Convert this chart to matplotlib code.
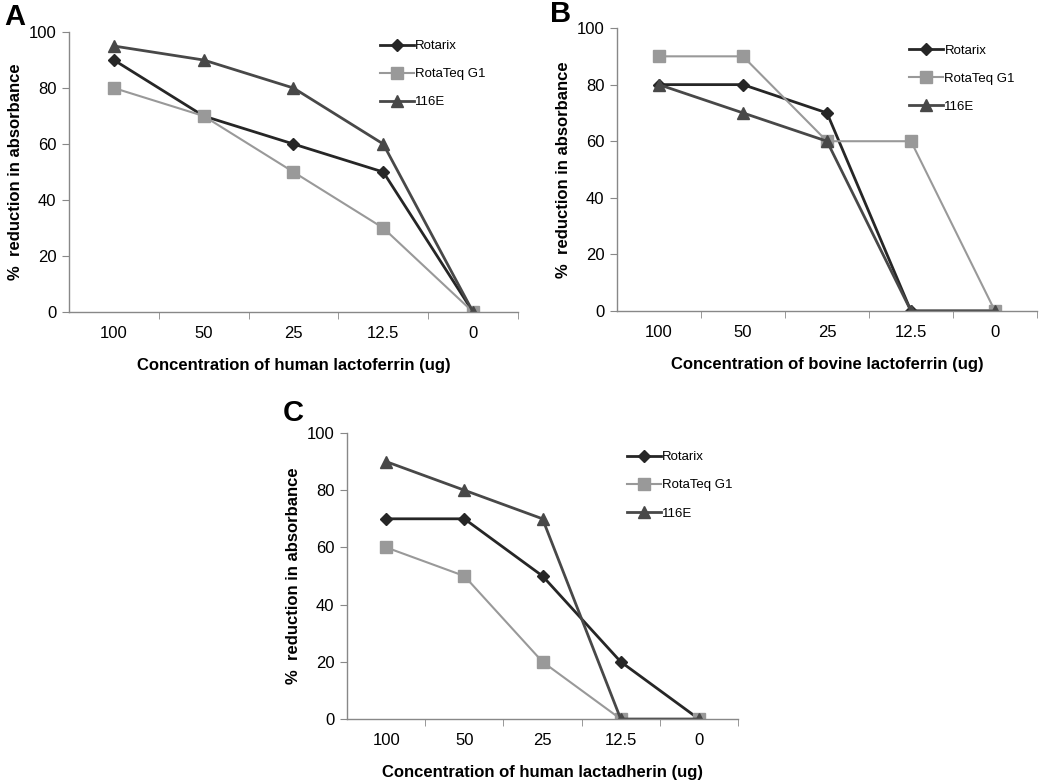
import matplotlib
matplotlib.use("Agg")
import matplotlib.pyplot as plt
from matplotlib.ticker import FixedLocator

plt.rcParams['font.family'] = ['Liberation Sans', 'DejaVu Sans']

categories = ["100", "50", "25", "12.5", "0"]
series_names = ["Rotarix", "RotaTeq G1", "116E"]

a_rotarix = [90, 70, 60, 50, 0]
a_rotateq = [80, 70, 50, 30, 0]
a_116e = [95, 90, 80, 60, 0]

b_rotarix = [80, 80, 70, 0, 0]
b_rotateq = [90, 90, 60, 60, 0]
b_116e = [80, 70, 60, 0, 0]

c_rotarix = [70, 70, 50, 20, 0]
c_rotateq = [60, 50, 20, 0, 0]
c_116e = [90, 80, 70, 0, 0]

xlabels = ["Concentration of human lactoferrin (ug)",
           "Concentration of bovine lactoferrin (ug)",
           "Concentration of human lactadherin (ug)"]
panel_letters = ["A", "B", "C"]

styles = [
    dict(color="#262626", marker="D", markersize=6, lw=2.0),
    dict(color="#999999", marker="s", markersize=8, lw=1.5),
    dict(color="#484848", marker="^", markersize=8, lw=2.0),
]

fig = plt.figure(figsize=(10.5, 7.83), dpi=100)
positions = [
    [0.0657, 0.6015, 0.4276, 0.3576],
    [0.5876, 0.6028, 0.4000, 0.3614],
    [0.3305, 0.0817, 0.3724, 0.3653],
]
data = [
    (a_rotarix, a_rotateq, a_116e),
    (b_rotarix, b_rotateq, b_116e),
    (c_rotarix, c_rotateq, c_116e),
]
legend_anchor = [(0.94, 0.99), (0.96, 0.96), (1.0, 0.955)]
letter_pos = [(-0.145, 1.055), (-0.16, 1.05), (-0.165, 1.07)]

xs = list(range(len(categories)))
for i, pos in enumerate(positions):
    ax = fig.add_axes(pos)
    for name, vals, st in zip(series_names, data[i], styles):
        ax.plot(xs, vals, label=name, color=st["color"], marker=st["marker"],
                markersize=st["markersize"], lw=st["lw"],
                markerfacecolor=st["color"], markeredgecolor=st["color"])
    ax.set_xlim(-0.5, len(categories) - 0.5)
    ax.set_ylim(0, 100)
    ax.set_yticks([0, 20, 40, 60, 80, 100])
    ax.set_xticks(xs)
    ax.set_xticklabels(categories)
    ax.xaxis.set_minor_locator(FixedLocator([0.5, 1.5, 2.5, 3.5, 4.5]))
    ax.tick_params(axis='x', which='major', length=0, pad=10, labelsize=12)
    ax.tick_params(axis='x', which='minor', length=5, color="#888888", direction='out')
    ax.tick_params(axis='y', length=5, color="#888888", labelsize=12, pad=4)
    for s in ["top", "right"]:
        ax.spines[s].set_visible(False)
    for s in ["left", "bottom"]:
        ax.spines[s].set_color("#888888")
        ax.spines[s].set_linewidth(1.0)
    ax.set_xlabel(xlabels[i], fontsize=12, fontweight='bold', labelpad=12)
    ax.set_ylabel("%  reduction in absorbance", fontsize=12, fontweight='bold', labelpad=4)
    leg = ax.legend(loc='upper right', bbox_to_anchor=legend_anchor[i], frameon=False,
                    fontsize=9.5, handlelength=2.6, handletextpad=0.1,
                    labelspacing=1.2, borderaxespad=0)
    ax.text(letter_pos[i][0], letter_pos[i][1], panel_letters[i], transform=ax.transAxes,
            fontsize=21, fontweight='bold', va='center', ha='left')

fig.savefig("out.png", dpi=100)
